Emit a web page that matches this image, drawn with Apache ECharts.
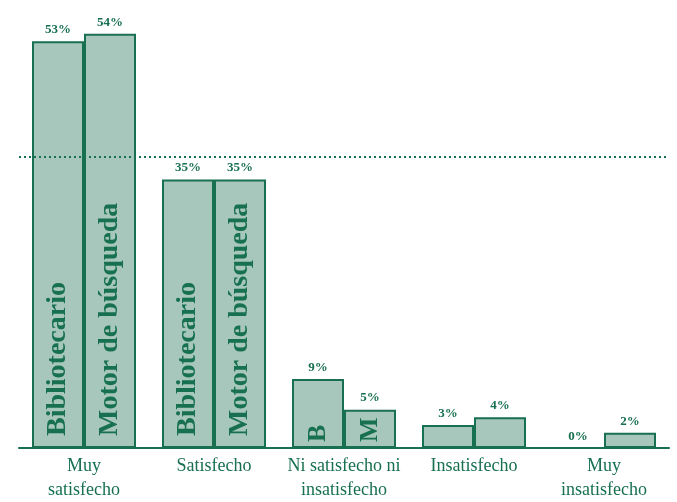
<!DOCTYPE html>
<html>
<head>
<meta charset="utf-8">
<script src="https://cdn.jsdelivr.net/npm/echarts@6/dist/echarts.min.js"></script>
<style>html,body{margin:0;padding:0;background:#fff}#c{width:677px;height:502px}</style>
</head>
<body>
<div id="c"></div>
<script>
const categories = ['Muy\nsatisfecho', 'Satisfecho', 'Ni satisfecho ni\ninsatisfecho', 'Insatisfecho', 'Muy\ninsatisfecho'];
const bibliotecario = [53, 35, 9, 3, 0];
const motor = [54, 35, 5, 4, 2];
const bibNames = ['Bibliotecario', 'Bibliotecario', 'B', '', ''];
const motNames = ['Motor de búsqueda', 'Motor de búsqueda', 'M', '', ''];
const refLine = 38;

const GREEN = '#17704f';
const FILL = '#a7c7bd';
const SERIF = '"Liberation Serif", "DejaVu Serif", serif';

function innerData(vals, names) {
  return vals.map((v, i) => {
    const lab = { show: names[i] !== '', formatter: names[i] };
    if (names[i].length === 1) { lab.distance = 6; lab.fontSize = 26; }
    return { value: v, label: lab };
  });
}
const innerLabel = {
  position: 'insideBottom', rotate: 90, align: 'left', verticalAlign: 'middle',
  distance: 12, color: GREEN, fontFamily: SERIF, fontWeight: 'bold', fontSize: 28
};
function topSeries(stack, vals) {
  return {
    type: 'bar', stack: stack, data: vals.map(() => 0), barWidth: 52,
    itemStyle: { color: 'transparent' }, silent: true,
    label: { show: true, position: 'top', distance: 5, color: GREEN, fontFamily: SERIF,
      fontWeight: 'bold', fontSize: 13, formatter: p => vals[p.dataIndex] + '%' }
  };
}

const chart = echarts.init(document.getElementById('c'));
chart.setOption({
  animation: false,
  grid: { left: 19, right: 8, top: 26, bottom: 50 },
  xAxis: {
    type: 'category', data: categories,
    axisLine: { lineStyle: { color: GREEN, width: 2 } },
    axisTick: { show: false },
    axisLabel: { color: GREEN, fontFamily: SERIF, fontSize: 18, lineHeight: 24, margin: 6, interval: 0 }
  },
  yAxis: { type: 'value', min: 0, max: 55, show: false, splitLine: { show: false } },
  series: [
    {
      type: 'bar', name: 'Bibliotecario', stack: 'b', data: innerData(bibliotecario, bibNames),
      barWidth: 52, barGap: '0%',
      itemStyle: { color: FILL, borderColor: GREEN, borderWidth: 2 },
      label: innerLabel,
      markLine: {
        symbol: 'none', silent: true,
        lineStyle: { color: GREEN, type: [2, 3], width: 2 },
        label: { show: false },
        data: [{ yAxis: refLine }]
      }
    },
    topSeries('b', bibliotecario),
    {
      type: 'bar', name: 'Motor de búsqueda', stack: 'm', data: innerData(motor, motNames),
      barWidth: 52, barGap: '0%',
      itemStyle: { color: FILL, borderColor: GREEN, borderWidth: 2 },
      label: innerLabel
    },
    topSeries('m', motor)
  ]
});
</script>
</body>
</html>
